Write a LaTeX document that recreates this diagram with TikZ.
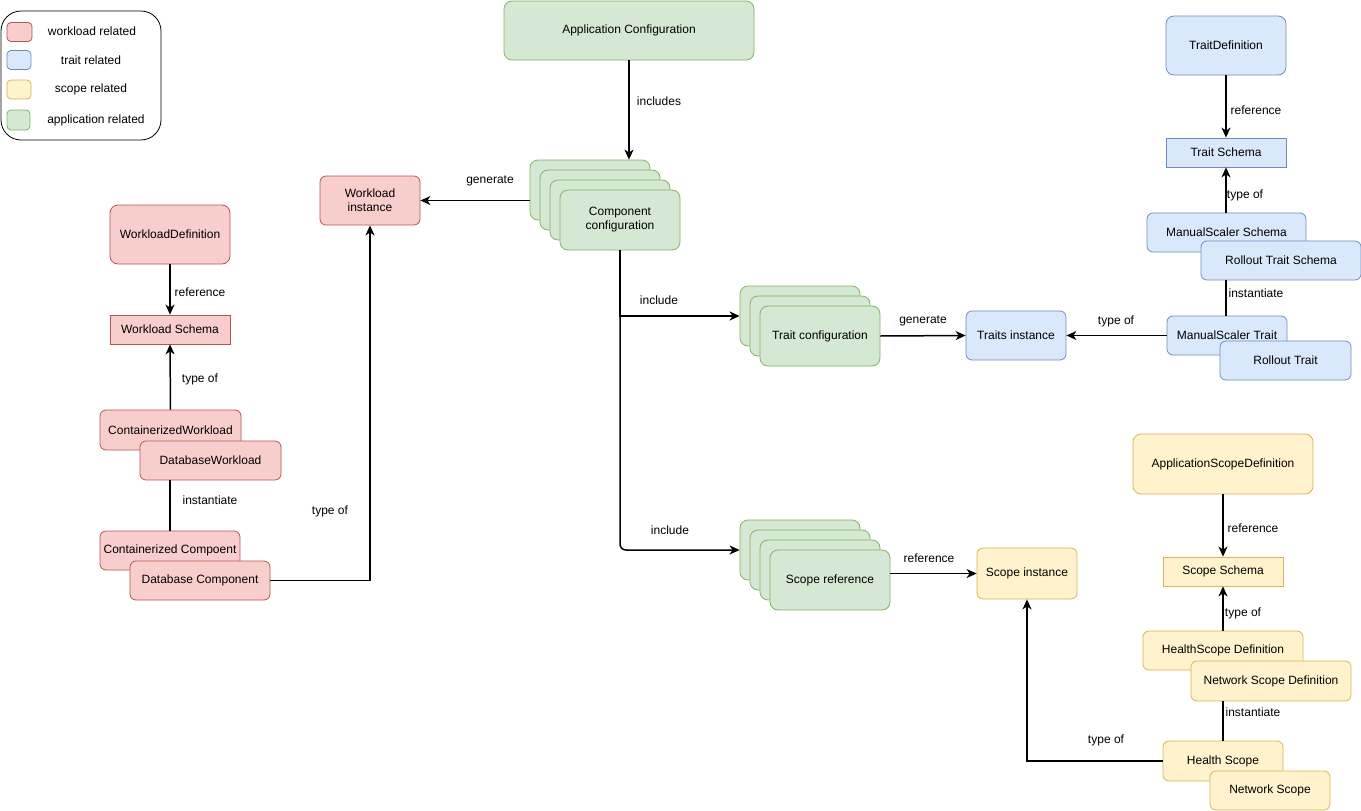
\documentclass[tikz,border=0pt]{standalone}
\usepackage{fontspec}
\setmainfont{Liberation Sans}
\usetikzlibrary{arrows.meta}
\definecolor{wlf}{HTML}{F8CECC}\definecolor{wld}{HTML}{B85450}
\definecolor{trf}{HTML}{DAE8FC}\definecolor{trd}{HTML}{6C8EBF}
\definecolor{scf}{HTML}{FFF2CC}\definecolor{scd}{HTML}{D6B656}
\definecolor{apf}{HTML}{D5E8D4}\definecolor{apd}{HTML}{82B366}
\tikzset{
  base/.style={line width=0.8pt, inner sep=0pt, align=center, font=\fontsize{12}{14}\selectfont},
  wl/.style={base, fill=wlf, draw=wld},
  tr/.style={base, fill=trf, draw=trd},
  sc/.style={base, fill=scf, draw=scd},
  ap/.style={base, fill=apf, draw=apd},
  rbig/.style={rounded corners=8pt},
  rsm/.style={rounded corners=6pt},
  sz/.style n args={2}{minimum width=#1pt, minimum height=#2pt},
  arr/.style={line width=1.5pt, -{Stealth[length=10pt,width=9pt,inset=3pt]}},
  ln/.style={line width=1.5pt},
  lbl/.style={font=\fontsize{12}{14}\selectfont, inner sep=0pt},
}
\begin{document}
\begin{tikzpicture}[x=1pt,y=-1pt]
\useasboundingbox (0,0) rectangle (1361,811);
% legend
\node[base, draw=black, rounded corners=20pt, sz={160}{129}] (leg) at (81,75.5) {};
\node[wl, rounded corners=4pt, sz={25}{19}] (lw) at (19.5,32) {};
\node[tr, rounded corners=4pt, sz={24}{19}] (lt) at (19,60) {};
\node[sc, rounded corners=4pt, sz={24}{19}] (ls) at (19,89.5) {};
\node[ap, rounded corners=4pt, sz={23}{20}] (la) at (18.5,120) {};
\node[lbl] (lwt) at (92,31) {workload related};
\node[lbl] (ltt) at (91,60) {trait related};
\node[lbl] (lst) at (91,89) {scope related};
\node[lbl] (lat) at (96,120) {application related};

% application
\node[ap, rbig, sz={250}{59}] (app) at (629,30.5) {Application Configuration};
\node[ap, rbig, sz={120}{60}] (cc1) at (590,190) {};
\node[ap, rbig, sz={120}{60}] (cc2) at (600,200) {};
\node[ap, rbig, sz={120}{60}] (cc3) at (610,210) {};
\node[ap, rbig, sz={120}{60}] (cc4) at (620,220) {Component\\configuration};
\node[ap, rbig, sz={120}{60}] (tc1) at (800,316) {};
\node[ap, rbig, sz={120}{60}] (tc2) at (810,326) {};
\node[ap, rbig, sz={120}{60}] (tc3) at (820,336) {Trait configuration};
\node[ap, rbig, sz={120}{60}] (sc1) at (800,550) {};
\node[ap, rbig, sz={120}{60}] (sc2) at (810,560) {};
\node[ap, rbig, sz={120}{60}] (sc3) at (820,570) {};
\node[ap, rbig, sz={120}{60}] (sc4) at (830,580) {Scope reference};

% instances
\node[wl, rsm, sz={100}{49}] (wi) at (370,200.5) {Workload\\instance};
\node[tr, rsm, sz={100}{49}] (ti) at (1016,335.5) {Traits instance};
\node[sc, rsm, sz={100}{51}] (si) at (1027,573.5) {Scope instance};

% workload column
\node[wl, rbig, sz={120}{59}] (wd) at (170,234.5) {WorkloadDefinition};
\node[wl, sz={120}{29}] (ws) at (170,329.5) {Workload Schema};
\node[wl, rsm, sz={141}{40}] (cw) at (170.5,430) {ContainerizedWorkload};
\node[wl, rsm, sz={141}{39}] (dw) at (210.5,460.5) {DatabaseWorkload};
\node[wl, rsm, sz={140}{39}] (cco) at (170,550.5) {Containerized Compoent};
\node[wl, rsm, sz={140}{39}] (dbc) at (200,580.5) {Database Component};

% trait column
\node[tr, rbig, sz={120}{59}] (td) at (1226,45.5) {TraitDefinition};
\node[tr, sz={120}{29}] (ts) at (1226,152.5) {Trait Schema};
\node[tr, rsm, sz={159}{39}] (mss) at (1226.5,232.5) {ManualScaler Schema};
\node[tr, rsm, sz={160}{39}] (rts) at (1281,260.5) {Rollout Trait Schema};
\node[tr, rsm, sz={120}{39}] (mst) at (1227,335.5) {ManualScaler Trait};
\node[tr, rsm, sz={131}{39}] (rt) at (1285.5,360.5) {Rollout Trait};

% scope column
\node[sc, rbig, sz={180}{60}] (asd) at (1223,464) {ApplicationScopeDefinition};
\node[sc, sz={120}{29}] (ss) at (1223,571.5) {Scope Schema};
\node[sc, rsm, sz={160}{39}] (hsd) at (1223,650.5) {HealthScope Definition};
\node[sc, rsm, sz={160}{40}] (nsd) at (1271,681) {Network Scope Definition};
\node[sc, rsm, sz={120}{40}] (hs) at (1223,761) {Health Scope};
\node[sc, rsm, sz={120}{39}] (ns) at (1270,790.5) {Network Scope};

% connectors
\draw[arr] (app.south) -- (app.south |- cc1.north) node[lbl] at (659,101) {includes};
\draw[arr] (cc1.west |- wi.east) -- (wi.east) node[lbl] at (490,181) {generate};
\draw[arr] (cc4.south) |- (tc1.west) node[lbl] at (659,300) {include};
\draw[arr, rounded corners=6pt] (cc4.south) |- (sc1.west) node[lbl] at (670,530) {include};
\draw[arr] (tc3.east) -- (ti.west) node[lbl] at (923,321) {generate};
\draw[arr] (sc4.east |- si.west) -- (si.west) node[lbl] at (929,558) {reference};
\draw[arr] (mst.west) -- (ti.east) node[lbl] at (1116,321) {type of};

\draw[arr] (td.south) -- (ts.north) node[lbl] at (1256,110) {reference};
\draw[arr] (mss.north -| ts.south) -- (ts.south) node[lbl] at (1245,195) {type of};
\draw[ln] (ts.south |- rts.south) -- (ts.south |- mst.north) node[lbl] at (1256,293) {instantiate};

\draw[arr] (asd.south) -- (ss.north) node[lbl] at (1253,528) {reference};
\draw[arr] (hsd.north) -- (ss.south) node[lbl] at (1243,613) {type of};
\draw[ln] (hs.north |- nsd.south) -- (hs.north) node[lbl] at (1253,712) {instantiate};
\draw[arr] (hs.west) -| (si.south) node[lbl] at (1106,740) {type of};

\draw[arr] (wd.south) -- (ws.north) node[lbl] at (200,292) {reference};
\draw[arr] (cw.north) -- (ws.south) node[lbl] at (200,379) {type of};
\draw[ln] (cco.north |- dw.south) -- (cco.north) node[lbl] at (210,500) {instantiate};
\draw[arr] (dbc.east) -| (wi.south) node[lbl] at (330,511) {type of};
\end{tikzpicture}
\end{document}
